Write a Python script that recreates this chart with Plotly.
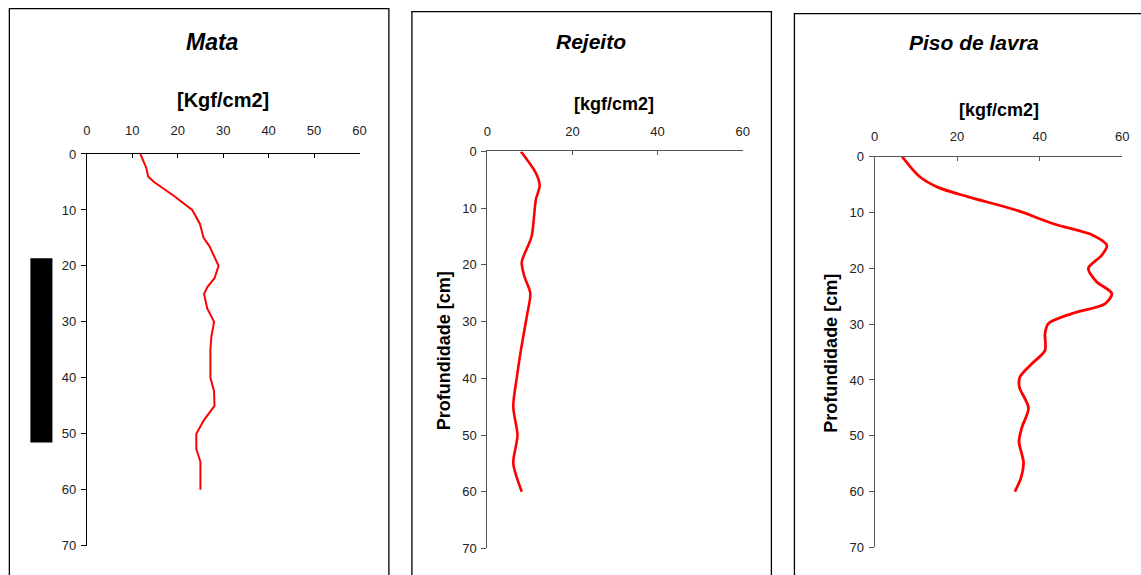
import plotly.graph_objects as go

W, H = 1141, 575

# ---- data ----
mata_depth = [0, 2.5, 4, 5, 7.5, 10, 12.5, 15, 16.5, 20, 22.2, 23.7, 25, 27.6, 30, 32.7, 35, 40, 42.4, 45, 47.5, 50, 52.7, 55, 60]
mata_val = [11.8, 13.1, 13.5, 14.8, 19.2, 23.2, 24.9, 25.7, 27.0, 29.0, 28.1, 26.6, 25.8, 26.5, 28.0, 27.4, 27.2, 27.2, 28.0, 28.1, 25.8, 24.1, 24.1, 25.0, 25.0]

rej_depth = [0, 3.8, 6, 8.5, 15, 19.5, 22, 25, 29, 35, 40, 45, 50, 52, 55, 60]
rej_val = [7.9, 11.4, 12.3, 11.4, 10.4, 8.1, 8.7, 10.1, 9.3, 7.9, 6.9, 6.1, 7.1, 6.7, 6.1, 8.1]

piso_depth = [0, 3.5, 5.5, 7.2, 9.5, 12.1, 14.1, 15.9, 17.7, 20, 22.4, 24.5, 26.3, 28.1, 29.9, 31.7, 34.7, 37.1, 39.5, 41.3, 45, 48.5, 51, 54.8, 57.5, 60]
piso_val = [6.7, 10.8, 15.4, 22.7, 34.0, 43.7, 53.0, 56.3, 55.0, 51.8, 53.8, 57.5, 55.9, 47.8, 42.1, 41.3, 41.3, 38.1, 35.2, 35.1, 37.3, 35.7, 35.0, 36.1, 35.5, 34.0]

titles = ["Mata", "Rejeito", "Piso de lavra"]
units = ["[Kgf/cm2]", "[kgf/cm2]", "[kgf/cm2]"]
ytitle = "Profundidade [cm]"
x_ticks_mata = [0, 10, 20, 30, 40, 50, 60]
x_ticks_other = [0, 20, 40, 60]
y_ticks = [0, 10, 20, 30, 40, 50, 60, 70]

FONT = "Liberation Sans, Arial, Helvetica"

# compensation for the rendering scale observed in the screenshot
SX, BX, SY, BY = 0.989, 3.65, 0.972, 7.3


def px(x):
    return ((x - BX) / SX) / W


def py(y):
    return 1 - ((y - BY) / SY) / H


fig = go.Figure()

panels = [
    dict(depth=mata_depth, val=mata_val, shape="linear", lw=2, x0=86.3, x1=358.7, y0=154, y1=545,
         ticks=x_ticks_mata, axcol="#000000", standoff=13),
    dict(depth=rej_depth, val=rej_val, shape="spline", lw=2.6, x0=486.3, x1=741.3, y0=151.5, y1=547.7,
         ticks=x_ticks_other, axcol="#555555", standoff=9),
    dict(depth=piso_depth, val=piso_val, shape="spline", lw=2.8, x0=873, x1=1120.3, y0=156.7, y1=546.7,
         ticks=x_ticks_other, axcol="#555555", standoff=9),
]

for i, p in enumerate(panels):
    n = "" if i == 0 else str(i + 1)
    fig.add_trace(go.Scatter(x=p["val"], y=p["depth"], mode="lines",
                             line=dict(color="#FF0000", width=p["lw"], shape=p["shape"], smoothing=0.8),
                             xaxis="x" + n, yaxis="y" + n, showlegend=False))
    fig.layout["xaxis" + n] = dict(
        domain=[px(p["x0"]), px(p["x1"])], anchor="y" + n, side="top", range=[0, 60],
        tickvals=p["ticks"], ticks="inside", ticklen=4, tickcolor=p["axcol"],
        showline=True, linecolor=p["axcol"], linewidth=1, showgrid=False, zeroline=False,
        tickfont=dict(family=FONT, size=13, color="#222"), ticklabelstandoff=p["standoff"],
    )
    fig.layout["yaxis" + n] = dict(
        domain=[py(p["y1"]), py(p["y0"])], anchor="x" + n, range=[70, 0],
        tickvals=y_ticks, ticks="outside", ticklen=5, tickcolor=p["axcol"],
        showline=True, linecolor=p["axcol"], linewidth=1, showgrid=False, zeroline=False,
        tickfont=dict(family=FONT, size=13, color="#222"), ticklabelstandoff=2,
    )

annotations = []
title_pos = [(212, 42), (590, 42), (972, 43)]
unit_pos = [(222, 100), (613, 104), (997, 110)]
for i in range(3):
    annotations.append(dict(x=px(title_pos[i][0]), y=py(title_pos[i][1]), xref="paper", yref="paper",
                            text="<b><i>" + titles[i] + "</i></b>", showarrow=False,
                            font=dict(family=FONT, size=23 if i == 0 else 21, color="#000"),
                            xanchor="center", yanchor="middle"))
    annotations.append(dict(x=px(unit_pos[i][0]), y=py(unit_pos[i][1]), xref="paper", yref="paper",
                            text="<b>" + units[i] + "</b>", showarrow=False,
                            font=dict(family=FONT, size=20 if i == 0 else 18, color="#000"),
                            xanchor="center", yanchor="middle"))
for (xc, yc) in [(443, 350), (830, 353)]:
    annotations.append(dict(x=px(xc), y=py(yc), xref="paper", yref="paper", text="<b>" + ytitle + "</b>",
                            showarrow=False, textangle=-90,
                            font=dict(family=FONT, size=18, color="#000"),
                            xanchor="center", yanchor="middle"))

shapes = []
for (x0, y0, x1) in [(9, 9, 388), (411, 12, 770), (793, 14, 1160)]:
    shapes.append(dict(type="rect", xref="paper", yref="paper", x0=px(x0), x1=px(x1), y0=py(600), y1=py(y0),
                       line=dict(color="#000", width=1.3), fillcolor="rgba(0,0,0,0)", layer="below"))
shapes.append(dict(type="rect", xref="paper", yref="paper", x0=px(30), x1=px(52), y0=py(442), y1=py(258),
                   line=dict(color="#000", width=0), fillcolor="#000"))

fig.update_layout(width=W, height=H, margin=dict(l=0, r=0, t=0, b=0),
                  paper_bgcolor="white", plot_bgcolor="white",
                  annotations=annotations, shapes=shapes)

fig.write_html("out.html", config={"displayModeBar": False},
               post_script="document.body.style.margin='0';document.body.style.overflow='hidden';")
